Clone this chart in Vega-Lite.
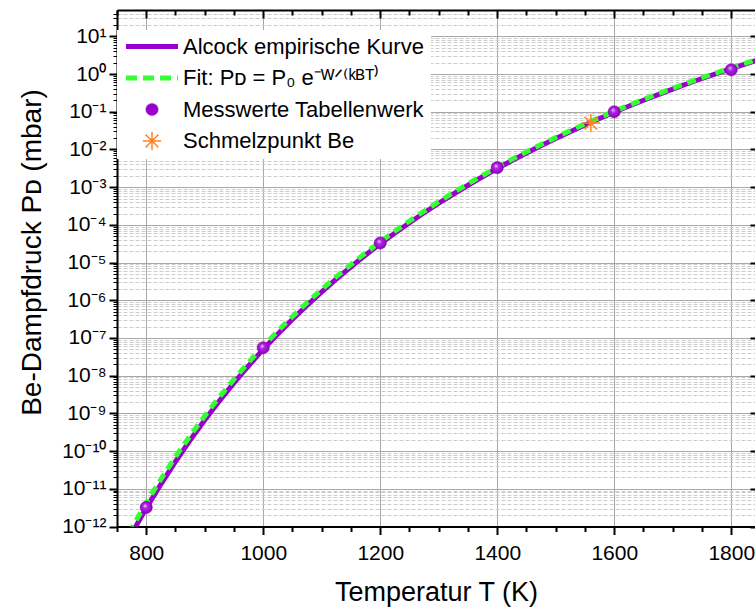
{
  "$schema": "https://vega.github.io/schema/vega-lite/v6.json",
  "width": 638,
  "height": 516.5,
  "autosize": {"type": "none"},
  "padding": {"left": 117, "top": 10, "right": 0, "bottom": 83},
  "background": "white",
  "config": {
    "view": {"stroke": null},
    "font": "Liberation Sans",
    "axis": {
      "labelFont": "Liberation Sans",
      "titleFont": "Liberation Sans",
      "labelColor": "black",
      "titleColor": "black",
      "tickColor": "black",
      "domainColor": "black",
      "titleFontWeight": "normal"
    },
    "legend": {"labelFont": "Liberation Sans"}
  },
  "datasets": {
    "alcock": [
      {"T": 780, "P": 8.78e-13, "series": "Alcock empirische Kurve"},
      {"T": 800, "P": 3.05e-12, "series": "Alcock empirische Kurve"},
      {"T": 850, "P": 5.29e-11, "series": "Alcock empirische Kurve"},
      {"T": 900, "P": 6.69e-10, "series": "Alcock empirische Kurve"},
      {"T": 950, "P": 6.46e-9, "series": "Alcock empirische Kurve"},
      {"T": 1000, "P": 4.97e-8, "series": "Alcock empirische Kurve"},
      {"T": 1050, "P": 3.14e-7, "series": "Alcock empirische Kurve"},
      {"T": 1100, "P": 1.679e-6, "series": "Alcock empirische Kurve"},
      {"T": 1150, "P": 7.74e-6, "series": "Alcock empirische Kurve"},
      {"T": 1200, "P": 3.145e-5, "series": "Alcock empirische Kurve"},
      {"T": 1250, "P": 1.14e-4, "series": "Alcock empirische Kurve"},
      {"T": 1300, "P": 3.742e-4, "series": "Alcock empirische Kurve"},
      {"T": 1350, "P": 1.124e-3, "series": "Alcock empirische Kurve"},
      {"T": 1400, "P": 3.119e-3, "series": "Alcock empirische Kurve"},
      {"T": 1450, "P": 8.06e-3, "series": "Alcock empirische Kurve"},
      {"T": 1500, "P": 1.954e-2, "series": "Alcock empirische Kurve"},
      {"T": 1550, "P": 4.477e-2, "series": "Alcock empirische Kurve"},
      {"T": 1600, "P": 9.72e-2, "series": "Alcock empirische Kurve"},
      {"T": 1650, "P": 0.2014, "series": "Alcock empirische Kurve"},
      {"T": 1700, "P": 0.3999, "series": "Alcock empirische Kurve"},
      {"T": 1750, "P": 0.763, "series": "Alcock empirische Kurve"},
      {"T": 1800, "P": 1.403, "series": "Alcock empirische Kurve"},
      {"T": 1850, "P": 2.497, "series": "Alcock empirische Kurve"}
    ],
    "fit": [
      {"T": 770, "P": 6.54e-13},
      {"T": 800, "P": 4.22e-12},
      {"T": 850, "P": 7.03e-11},
      {"T": 900, "P": 8.58e-10},
      {"T": 950, "P": 8.04e-9},
      {"T": 1000, "P": 6.03e-8},
      {"T": 1050, "P": 3.73e-7},
      {"T": 1100, "P": 1.954e-6},
      {"T": 1150, "P": 8.87e-6},
      {"T": 1200, "P": 3.55e-5},
      {"T": 1250, "P": 1.271e-4},
      {"T": 1300, "P": 4.124e-4},
      {"T": 1350, "P": 1.227e-3},
      {"T": 1400, "P": 3.377e-3},
      {"T": 1450, "P": 8.67e-3},
      {"T": 1500, "P": 2.089e-2},
      {"T": 1550, "P": 4.757e-2},
      {"T": 1600, "P": 0.1029},
      {"T": 1650, "P": 0.2125},
      {"T": 1700, "P": 0.4203},
      {"T": 1750, "P": 0.7997},
      {"T": 1800, "P": 1.468},
      {"T": 1850, "P": 2.608}
    ],
    "messwerte": [
      {"T": 800, "P": 3.2e-12},
      {"T": 1000, "P": 5.5e-8},
      {"T": 1200, "P": 3.3e-5},
      {"T": 1400, "P": 3.3e-3},
      {"T": 1600, "P": 0.1},
      {"T": 1800, "P": 1.3}
    ],
    "schmelz": [
      {"T": 1560, "P": 0.05}
    ]
  },
  "layer": [
    {
      "data": {"name": "alcock"},
      "mark": {"type": "line", "strokeWidth": 5, "interpolate": "monotone", "clip": true},
      "encoding": {
        "x": {
          "field": "T", "type": "quantitative",
          "scale": {"domain": [750, 1840.6], "nice": false, "zero": false},
          "axis": {
            "orient": "bottom",
            "values": [800, 1000, 1200, 1400, 1600, 1800],
            "format": "d",
            "tickSize": 8, "tickWidth": 2, "domainWidth": 2,
            "labelFontSize": 21, "labelPadding": 8,
            "grid": true, "gridColor": "#a8a8a8", "gridWidth": 1,
            "title": "Temperatur T (K)", "titleFontSize": 27, "titlePadding": 16
          }
        },
        "y": {
          "field": "P", "type": "quantitative",
          "scale": {"type": "log", "domain": [1e-12, 50], "nice": false},
          "axis": {
            "orient": "left",
            "values": [1e-12, 1e-11, 1e-10, 1e-9, 1e-8, 1e-7, 1e-6, 1e-5, 1e-4, 1e-3, 1e-2, 1e-1, 1, 10],
            "tickSize": 8, "tickWidth": 2, "domainWidth": 2,
            "labelFontSize": 21, "labelPadding": 3,
            "labelExpr": "'10' + (round(log(datum.value)/LN10) < 0 ? '⁻' : '') + (abs(round(log(datum.value)/LN10)) >= 10 ? '¹' : '') + ['⁰','¹','²','³','⁴','⁵','⁶','⁷','⁸','⁹'][abs(round(log(datum.value)/LN10)) % 10]",
            "grid": true, "gridColor": "#a8a8a8", "gridWidth": 1,
            "title": "Be-Dampfdruck Pᴅ (mbar)", "titleFontSize": 28,
            "titleX": -85, "titleY": 242, "titleBaseline": "middle", "titleAlign": "center", "titleAngle": -90
          }
        },
        "color": {
          "field": "series", "type": "nominal",
          "scale": {
            "domain": ["Alcock empirische Kurve", "Fit: Pᴅ = P₀ e⁻ᵂᐟ⁽ᵏᴮᵀ⁾", "Messwerte Tabellenwerk", "Schmelzpunkt Be"],
            "range": ["#9900cc", "#33ff33", "#9900cc", "#ff8022"]
          },
          "legend": {
            "orient": "none", "legendX": 0, "legendY": 20,
            "title": null, "fillColor": "white", "padding": 6.5,
            "labelFontSize": 22, "labelColor": "black", "labelOffset": 20, "labelLimit": 500,
            "symbolSize": 2704, "symbolStrokeWidth": 5,
            "clipHeight": 20, "rowPadding": 9.5, "symbolOffset": 17.5,
            "encode": {
              "symbols": {
                "update": {
                  "shape": {"signal": "datum.value == 'Messwerte Tabellenwerk' ? 'circle' : datum.value == 'Schmelzpunkt Be' ? 'M0,-1L0,1M-1,0L1,0M-0.7,-0.7L0.7,0.7M-0.7,0.7L0.7,-0.7' : 'stroke'"},
                  "size": {"signal": "datum.value == 'Messwerte Tabellenwerk' ? 150 : datum.value == 'Schmelzpunkt Be' ? 330 : 2704"},
                  "strokeWidth": {"signal": "datum.value == 'Messwerte Tabellenwerk' ? 0.5 : datum.value == 'Schmelzpunkt Be' ? 1.5 : 5"},
                  "strokeDash": {"signal": "indexof(datum.value, 'Fit') == 0 ? [11,6] : [1,0]"},
                  "fill": {"signal": "datum.value == 'Messwerte Tabellenwerk' ? '#9900cc' : 'transparent'"},
                  "stroke": {"signal": "datum.value == 'Alcock empirische Kurve' ? '#9900cc' : indexof(datum.value, 'Fit') == 0 ? '#33ff33' : datum.value == 'Messwerte Tabellenwerk' ? '#7a00a0' : '#ff8022'"},
                  "opacity": {"value": 1}
                }
              }
            }
          }
        }
      }
    },
    {
      "data": {"name": "fit"},
      "mark": {"type": "line", "strokeWidth": 5, "strokeDash": [9, 6], "color": "#33ff33", "interpolate": "monotone", "clip": true},
      "encoding": {
        "x": {
          "field": "T", "type": "quantitative",
          "scale": {"domain": [750, 1840.6], "nice": false, "zero": false},
          "axis": {
            "orient": "bottom",
            "values": [750, 850, 900, 950, 1050, 1100, 1150, 1250, 1300, 1350, 1450, 1500, 1550, 1650, 1700, 1750],
            "tickSize": 5, "tickWidth": 2, "domain": false, "labels": false, "grid": false, "title": null
          }
        },
        "y": {
          "field": "P", "type": "quantitative",
          "scale": {"type": "log", "domain": [1e-12, 50], "nice": false},
          "axis": {
            "orient": "left",
            "values": [2e-12, 3e-12, 4e-12, 5e-12, 6e-12, 7e-12, 8e-12, 9e-12,
                       2e-11, 3e-11, 4e-11, 5e-11, 6e-11, 7e-11, 8e-11, 9e-11,
                       2e-10, 3e-10, 4e-10, 5e-10, 6e-10, 7e-10, 8e-10, 9e-10,
                       2e-9, 3e-9, 4e-9, 5e-9, 6e-9, 7e-9, 8e-9, 9e-9,
                       2e-8, 3e-8, 4e-8, 5e-8, 6e-8, 7e-8, 8e-8, 9e-8,
                       2e-7, 3e-7, 4e-7, 5e-7, 6e-7, 7e-7, 8e-7, 9e-7,
                       2e-6, 3e-6, 4e-6, 5e-6, 6e-6, 7e-6, 8e-6, 9e-6,
                       2e-5, 3e-5, 4e-5, 5e-5, 6e-5, 7e-5, 8e-5, 9e-5,
                       2e-4, 3e-4, 4e-4, 5e-4, 6e-4, 7e-4, 8e-4, 9e-4,
                       2e-3, 3e-3, 4e-3, 5e-3, 6e-3, 7e-3, 8e-3, 9e-3,
                       2e-2, 3e-2, 4e-2, 5e-2, 6e-2, 7e-2, 8e-2, 9e-2,
                       0.2, 0.3, 0.4, 0.5, 0.6, 0.7, 0.8, 0.9,
                       2, 3, 4, 5, 6, 7, 8, 9,
                       20, 30, 40],
            "tickSize": 4, "tickWidth": 1, "domain": false, "labels": false,
            "grid": true, "gridColor": "#cccccc", "gridWidth": 1, "gridDash": [4, 2], "title": null
          }
        }
      }
    },
    {
      "data": {"name": "messwerte"},
      "mark": {
        "type": "point", "shape": "circle", "filled": true, "size": 150, "opacity": 1,
        "fill": {
          "gradient": "radial", "x1": 0.38, "y1": 0.35, "r1": 0, "x2": 0.5, "y2": 0.5, "r2": 0.55,
          "stops": [
            {"offset": 0, "color": "#f4d0ff"},
            {"offset": 0.35, "color": "#b222e6"},
            {"offset": 1, "color": "#8200b4"}
          ]
        },
        "stroke": "#7a00a0", "strokeWidth": 0.5
      },
      "encoding": {
        "x": {
          "field": "T", "type": "quantitative",
          "scale": {"domain": [750, 1840.6], "nice": false, "zero": false},
          "axis": {
            "orient": "top",
            "values": [800, 1000, 1200, 1400, 1600, 1800],
            "tickSize": -8, "tickWidth": 2, "domainWidth": 2, "labels": false, "grid": false, "title": null
          }
        },
        "y": {
          "field": "P", "type": "quantitative",
          "scale": {"type": "log", "domain": [1e-12, 50], "nice": false},
          "axis": {
            "orient": "right",
            "values": [1e-12, 1e-11, 1e-10, 1e-9, 1e-8, 1e-7, 1e-6, 1e-5, 1e-4, 1e-3, 1e-2, 1e-1, 1, 10],
            "tickSize": -5, "tickWidth": 2, "domain": false, "labels": false, "grid": false, "title": null
          }
        }
      }
    },
    {
      "data": {"name": "schmelz"},
      "mark": {
        "type": "point",
        "shape": "M0,-1L0,1M-1,0L1,0M-0.7,-0.7L0.7,0.7M-0.7,0.7L0.7,-0.7",
        "filled": false, "size": 330, "stroke": "#ff8022", "strokeWidth": 1.5, "opacity": 1
      },
      "encoding": {
        "x": {
          "field": "T", "type": "quantitative",
          "scale": {"domain": [750, 1840.6], "nice": false, "zero": false},
          "axis": {
            "orient": "top",
            "values": [750, 850, 900, 950, 1050, 1100, 1150, 1250, 1300, 1350, 1450, 1500, 1550, 1650, 1700, 1750],
            "tickSize": -5, "tickWidth": 2, "domain": false, "labels": false, "grid": false, "title": null
          }
        },
        "y": {
          "field": "P", "type": "quantitative",
          "scale": {"type": "log", "domain": [1e-12, 50], "nice": false},
          "axis": {
            "orient": "right",
            "values": [1e-12],
            "tickSize": 0, "domain": false, "labels": false, "grid": false, "title": null
          }
        }
      }
    }
  ],
  "resolve": {"axis": {"x": "independent", "y": "independent"}}
}
